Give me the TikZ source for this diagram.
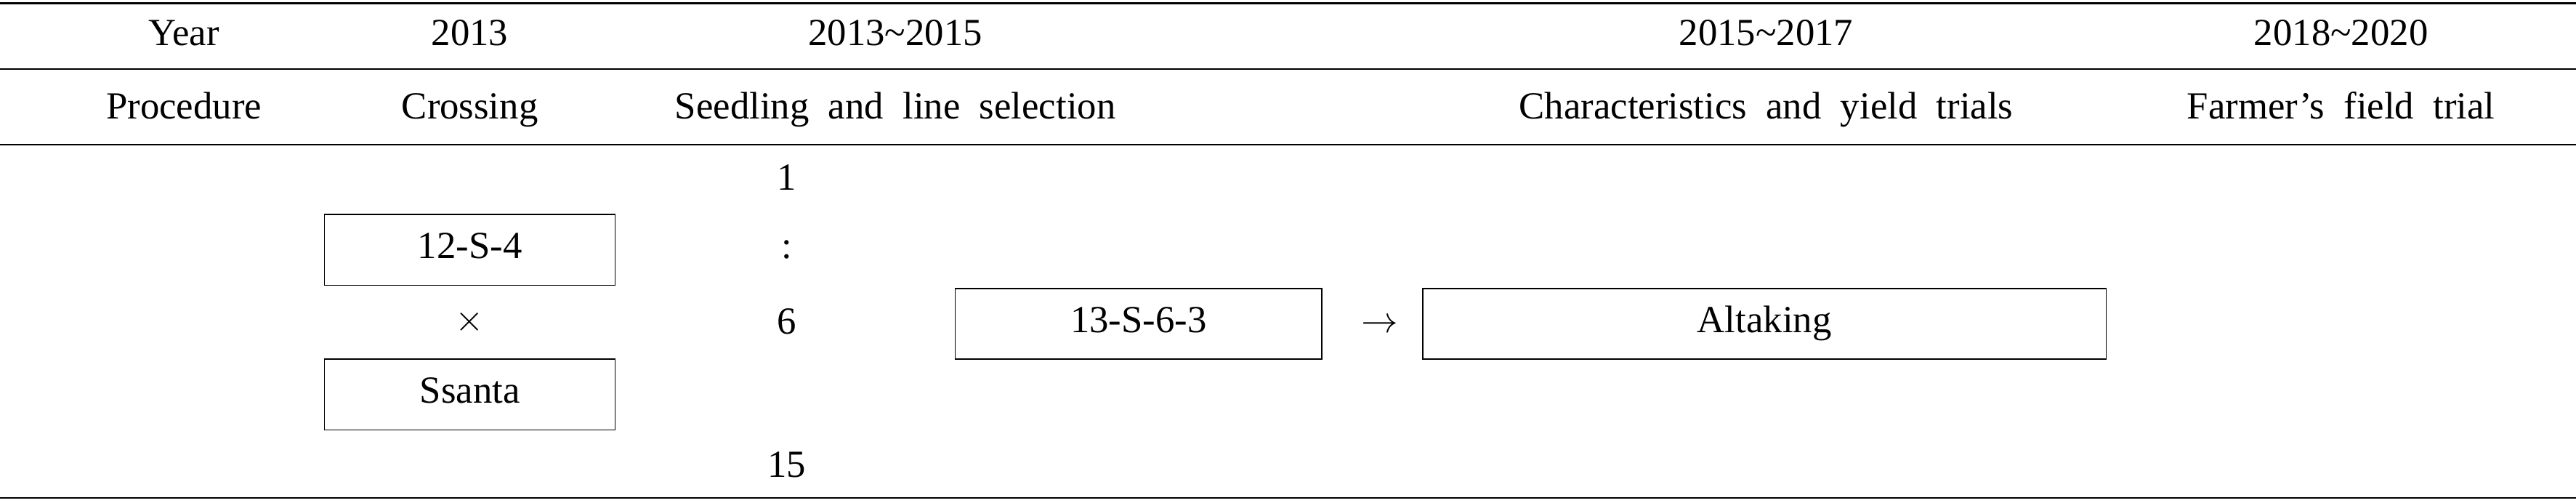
\documentclass[tikz,border=0pt]{standalone}
\usepackage{fontspec}
\setmainfont{Liberation Serif}
\begin{document}
\begin{tikzpicture}[x=0.0226cm,y=-0.0226cm,
    lbl/.style={font=\fontsize{15}{18}\selectfont,text height=10pt,text depth=3pt},
    plant/.style={draw,thin,minimum height=43*0.0226cm,text height=10pt,text depth=3pt,font=\fontsize{15}{18}\selectfont}]
        \useasboundingbox (0,0) rectangle (1568,306);
        \draw[thick](0,2)--(1568,2);
        \draw(0,42)--(1568,42);
        \draw(0,88)--(1568,88);
        \draw[thick](0,303)--(1568,303);
        % header
        \node[lbl] (year) at (112,22) {Year};
        \node[lbl] (y1) at (286,22) {2013};
        \node[lbl] (y2) at (545,22) {2013\textasciitilde2015};
        \node[lbl] (y3) at (1075,22) {2015\textasciitilde2017};
        \node[lbl] (y4) at (1425,22) {2018\textasciitilde2020};
        \node[lbl] (proc) at (112,67) {Procedure};
        \node[lbl] (p1) at (286,67) {Crossing};
        \node[lbl] (p2) at (545,67) {Seedling\ \ and\ \ line\ \ selection};
        \node[lbl] (p3) at (1075,67) {Characteristics\ \ and\ \ yield\ \ trials};
        \node[lbl] (p4) at (1425,67) {Farmer’s\ \ field\ \ trial};
        % body
        \node[plant,minimum width=177*0.0226cm] (mother) at (286,152) {12-S-4};
        \node[lbl] (cross) at (286,196) {$\times$};
        \node[plant,minimum width=177*0.0226cm] (father) at (286,240) {Ssanta};
        \node[lbl] (n1) at (479,110) {1};
        \node[lbl] (n2) at (479,152) {:};
        \node[lbl] (n3) at (479,198) {6};
        \node[lbl] (n4) at (479,285) {15};
        \node[plant,minimum width=223*0.0226cm] (line) at (693,197) {13-S-6-3};
        \node[lbl] (arr) at (840,197) {$\rightarrow$};
        \node[plant,minimum width=416*0.0226cm] (variety) at (1074,197) {Altaking};
\end{tikzpicture}
\end{document}
